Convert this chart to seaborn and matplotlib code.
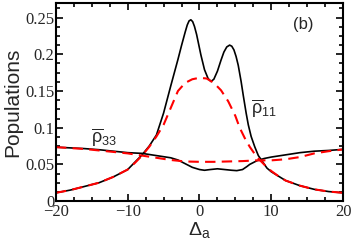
import seaborn as sns
import matplotlib.pyplot as plt
import pandas as pd
from matplotlib.ticker import MultipleLocator

# full model, rho_11 (black solid)
x_r11 = [-20, -18, -16, -14, -12, -10, -9, -8, -7, -6, -5, -4, -3, -2.5, -2, -1.7, -1.45,
         -1.2, -0.95, -0.7, -0.4, -0.1, 0.2, 0.7, 1.2, 1.6, 2.0, 2.5, 3.0, 3.4, 3.8, 4.2, 4.5,
         4.8, 5.1, 5.4, 5.8, 6.1, 6.5, 6.8, 7.2, 7.7, 8.2, 8.7, 9.4, 10, 11, 12, 14, 16, 18, 20]
y_r11 = [0.0113, 0.015, 0.020, 0.025, 0.033, 0.043, 0.053, 0.063, 0.075, 0.090, 0.120,
         0.157, 0.193, 0.212, 0.230, 0.240, 0.2455, 0.247, 0.2445, 0.238, 0.227, 0.213, 0.199,
         0.179, 0.167, 0.163, 0.166, 0.177, 0.192, 0.203, 0.210, 0.2125, 0.211, 0.206, 0.197,
         0.185, 0.163, 0.144, 0.120, 0.104, 0.088, 0.074, 0.062, 0.055, 0.045, 0.040, 0.034,
         0.028, 0.021, 0.016, 0.013, 0.0113]

# approximation, rho_11 (red dashed)
x_r11_ap = [-20, -18, -16, -14, -12, -10, -9, -8, -7, -6, -5, -4, -3, -2, -1, 0, 1, 2,
            3, 4, 5, 5.6, 6.3, 7, 8, 9, 10, 11, 12, 14, 16, 18, 20]
y_r11_ap = [0.0113, 0.015, 0.020, 0.025, 0.033, 0.043, 0.052, 0.062, 0.074, 0.088, 0.104,
            0.127, 0.150, 0.161, 0.166, 0.168, 0.167, 0.161, 0.151, 0.136, 0.116, 0.100,
            0.086, 0.074, 0.060, 0.050, 0.041, 0.034, 0.028, 0.021, 0.016, 0.013, 0.0113]

# full model, rho_33 (black solid)
x_r33 = [-20, -18, -16, -14, -12, -10, -8, -6, -4, -3, -2, -1, 0, 0.7, 1.5, 2.5, 3.5,
         4.5, 5.2, 6, 6.6, 7, 8, 9, 10, 12, 14, 16, 18, 20]
y_r33 = [0.0735, 0.0725, 0.0715, 0.070, 0.068, 0.066, 0.065, 0.062, 0.059, 0.056, 0.051,
         0.046, 0.043, 0.042, 0.043, 0.044, 0.043, 0.042, 0.0415, 0.043, 0.047, 0.050,
         0.055, 0.058, 0.060, 0.063, 0.066, 0.068, 0.069, 0.0705]

# approximation, rho_33 (red dashed)
x_r33_ap = [-20, -16, -12, -10, -8, -6, -4, -2, 0, 2, 4, 6, 8, 10, 12, 14, 16, 18, 20]
y_r33_ap = [0.0735, 0.071, 0.067, 0.065, 0.062, 0.059, 0.056, 0.054, 0.0535, 0.0535,
            0.054, 0.0545, 0.0555, 0.0555, 0.057, 0.060, 0.065, 0.068, 0.0704]

sns.set_theme(style="ticks")
plt.rcParams['font.family'] = ['Liberation Sans', 'DejaVu Sans']
plt.rcParams['mathtext.fontset'] = 'custom'
plt.rcParams['mathtext.rm'] = 'Liberation Sans'
plt.rcParams['mathtext.it'] = 'Liberation Sans'

fig = plt.figure(figsize=(3.54, 2.42), dpi=100)
ax = fig.add_axes([0.158, 0.169, 0.811, 0.819])

sns.lineplot(x=x_r11, y=y_r11, ax=ax, color='black', lw=1.2, estimator=None, sort=False)
sns.lineplot(x=x_r33, y=y_r33, ax=ax, color='black', lw=1.2, estimator=None, sort=False)
sns.lineplot(x=x_r11_ap, y=y_r11_ap, ax=ax, color='#ff0000', lw=1.5, estimator=None,
             sort=False, dashes=False, linestyle=(0, (5, 3)))
sns.lineplot(x=x_r33_ap, y=y_r33_ap, ax=ax, color='#ff0000', lw=1.5, estimator=None,
             sort=False, dashes=False, linestyle=(0, (5, 3)))

ax.set_xlim(-20, 20)
ax.set_ylim(0, 0.27)
ax.xaxis.set_major_locator(MultipleLocator(10))
ax.xaxis.set_minor_locator(MultipleLocator(2.5))
ax.yaxis.set_major_locator(MultipleLocator(0.05))
ax.yaxis.set_minor_locator(MultipleLocator(0.0125))
ax.set_yticks([0, 0.05, 0.1, 0.15, 0.2, 0.25])
ax.set_yticklabels(['0', '0.05', '0.1', '0.15', '0.2', '0.25'])
ax.tick_params(which='both', direction='in', top=True, right=True, width=1.2, color='black')
ax.tick_params(which='major', length=5)
ax.tick_params(which='minor', length=3)
for lab in ax.get_xticklabels() + ax.get_yticklabels():
    lab.set_family('Liberation Serif')
    lab.set_fontsize(12)
ax.tick_params(axis='x', pad=2)
ax.tick_params(axis='y', pad=1)
for sp in ax.spines.values():
    sp.set_linewidth(1.5)
    sp.set_color('black')

ax.set_xlabel(r'$\Delta_{\rm a}$', fontsize=14, labelpad=0)
ax.set_ylabel('Populations', fontsize=15, labelpad=2)

ax.text(14.4, 0.24, '(b)', fontsize=12, ha='center', va='center')
ax.text(9.0, 0.127, r'$\overline{\rho}_{11}$', fontsize=13, ha='center', va='center')
ax.text(-13.3, 0.087, r'$\overline{\rho}_{33}$', fontsize=13, ha='center', va='center')

fig.savefig('out.png', dpi=100)
